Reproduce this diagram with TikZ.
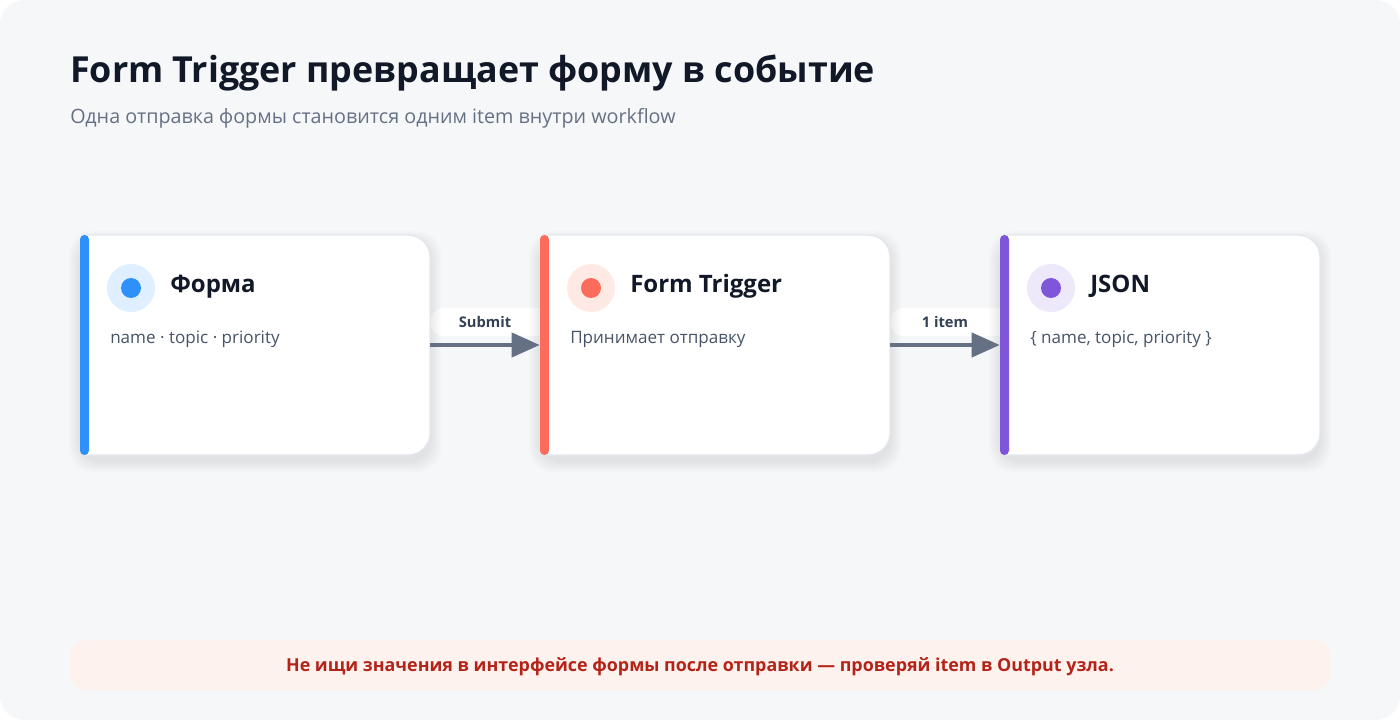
\documentclass[tikz,border=0pt]{standalone}
\usepackage{fontspec}
\setmainfont{Open Sans}
\usetikzlibrary{arrows.meta}
\definecolor{bgc}{HTML}{F6F7F9}
\definecolor{titlec}{HTML}{111827}
\definecolor{subc}{HTML}{667085}
\definecolor{bodyc}{HTML}{475467}
\definecolor{borderc}{HTML}{E4E7EC}
\definecolor{arrowc}{HTML}{667085}
\definecolor{labelc}{HTML}{344054}
\definecolor{bannerbg}{HTML}{FEF2EE}
\definecolor{bannertx}{HTML}{B42318}
\definecolor{blueacc}{HTML}{2E90FA}
\definecolor{bluelight}{HTML}{E0EFFF}
\definecolor{coralacc}{HTML}{FF6B5B}
\definecolor{corallight}{HTML}{FFE9E5}
\definecolor{purpacc}{HTML}{7F56D9}
\definecolor{purplight}{HTML}{EEE8FB}
\tikzset{
  cardnode/.style={inner sep=0pt, minimum height=165pt},
  cardtitle/.style={anchor=base west, inner sep=0pt, text=titlec, font=\bfseries\fontsize{18}{21}\selectfont},
  cardbody/.style={anchor=base west, inner sep=0pt, text=bodyc, font=\fontsize{12.8}{15}\selectfont},
  flow/.style={draw=arrowc, line width=3pt, -{Triangle[length=21pt, width=18pt]}},
  flowlabel/.style={inner sep=0pt, text=labelc, font=\bfseries\fontsize{11}{13}\selectfont},
  pillbg/.style={fill=white, rounded corners=10pt},
}
\newcommand\cardshape[3]{% x0 x1 accent
  \foreach \k in {1,...,7}
    \fill[black, opacity=0.012, rounded corners=18pt] (#1-1.6*\k, 235-1.4*\k+6) rectangle (#2+1.6*\k, 455+1.6*\k+6);
  \filldraw[fill=white, draw=borderc, line width=1pt] (#1+3,235) -- (#2-22,235) arc[start angle=-90,end angle=0,radius=22] -- (#2,455-22) arc[start angle=0,end angle=90,radius=22] -- (#1+3,455) -- cycle;
  \fill[#3, rounded corners=3.3pt] (#1,235) rectangle (#1+9,455);
}
\begin{document}
\begin{tikzpicture}[x=0.75pt,y=-0.75pt]
\useasboundingbox (0,0) rectangle (1400,720);
\fill[white] (0,0) rectangle (1400,720);
\fill[bgc, rounded corners=18pt] (0,0) rectangle (1400,720);

\node[anchor=base west, inner sep=0pt, text=titlec, font=\bfseries\fontsize{26.9}{31}\selectfont] (title) at (70,83) {Form Trigger превращает форму в событие};
\node[anchor=base west, inner sep=0pt, text=subc, font=\fontsize{14.8}{18}\selectfont] (subtitle) at (70,124) {Одна отправка формы становится одним item внутри workflow};

% label pills
\fill[pillbg] (430,308) rectangle (550,336);
\fill[pillbg] (890,308) rectangle (1010,336);

% cards
\cardshape{80}{430}{blueacc}
\cardshape{540}{890}{coralacc}
\cardshape{1000}{1320}{purpacc}

\node[cardnode, minimum width=262.5pt] (forma) at (255,345) {};
\node[cardnode, minimum width=262.5pt] (trigger) at (715,345) {};
\node[cardnode, minimum width=240pt] (json) at (1160,345) {};

% icons
\fill[bluelight] (131,288) circle[radius=24];
\fill[blueacc] (131,288) circle[radius=10];
\fill[corallight] (591,288) circle[radius=24];
\fill[coralacc] (591,288) circle[radius=10];
\fill[purplight] (1051,288) circle[radius=24];
\fill[purpacc] (1051,288) circle[radius=10];

\node[cardtitle] (t1) at (170,292.5) {Форма};
\node[cardtitle] (t2) at (630,292.5) {Form Trigger};
\node[cardtitle] (t3) at (1090,292.5) {JSON};

\node[cardbody] (b1) at (110,344) {name · topic · priority};
\node[cardbody] (b2) at (570,344) {Принимает отправку};
\node[cardbody] (b3) at (1030,344) {\{ name, topic, priority \}};

% connectors
\draw[flow] (forma.east) -- (trigger.west);
\draw[flow] (trigger.east) -- (json.west);
\node[flowlabel] (l1) at (485,322.5) {Submit};
\node[flowlabel] (l2) at (945,322.5) {1 item};

% banner
\fill[bannerbg, rounded corners=12pt] (70,640) rectangle (1330,690);
\node[inner sep=0pt, text=bannertx, font=\bfseries\fontsize{13.4}{16}\selectfont] (banner) at (700,667) {Не ищи значения в интерфейсе формы после отправки — проверяй item в Output узла.};
\end{tikzpicture}
\end{document}
